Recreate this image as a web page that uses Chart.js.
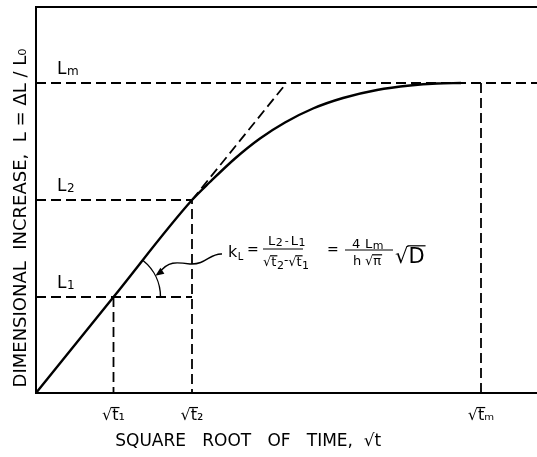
<!DOCTYPE html>
<html>
<head>
<meta charset="utf-8">
<script src="https://cdn.jsdelivr.net/npm/chart.js@4.4.0/dist/chart.umd.min.js"></script>
<style>
    html, body { margin: 0; padding: 0; background: #fff; }
    #wrap { width: 537px; height: 457px; }
</style>
</head>
<body>
<div id="wrap"><canvas id="chart"></canvas></div>
<script>
(function () {
    'use strict';

    // plot units: sqrt(time) across, dimensional increase up (arbitrary)
    var xMax = 501;
    var yMax = 386;

    var tickValues = [77.5, 156, 445];
    var tickLabels = ['√t₁', '√t₂', '√tₘ'];

    var levelValues = [96, 193, 310];      // L1, L2, Lm
    var levelSubs = ['1', '2', 'm'];

    // measured curve: straight from origin through (√t2, L2), then bending over to Lm
    var curveX = [0, 77.5, 156, 174, 199, 224, 249, 277, 307, 341, 374, 401, 425];
    var curveY = [0, 96, 193, 211, 234.5, 254.5, 270.5, 284.5, 295, 303, 307.5, 309.5, 310];

    // extension of the initial slope up to Lm
    var tangentX = [156, 250.5];
    var tangentY = [193, 310];

    var FONT = '"DejaVu Sans", "Liberation Sans", sans-serif';
    var dash = [10, 5];

    function pts(xs, ys) {
        return xs.map(function (x, i) { return { x: x, y: ys[i] }; });
    }

    function dashed(data) {
        return {
            data: data,
            showLine: true,
            borderColor: '#000',
            borderWidth: 1.8,
            borderDash: dash,
            pointRadius: 0,
            tension: 0,
            clip: false
        };
    }

    var t1 = tickValues[0], t2 = tickValues[1], tm = tickValues[2];
    var l1 = levelValues[0], l2 = levelValues[1], lm = levelValues[2];

    var datasets = [
        dashed([{ x: 0, y: lm }, { x: xMax, y: lm }]),
        dashed([{ x: 0, y: l2 }, { x: t2, y: l2 }, { x: t2, y: 0 }]),
        dashed([{ x: 0, y: l1 }, { x: t2, y: l1 }]),
        dashed([{ x: t1, y: l1 }, { x: t1, y: 0 }]),
        dashed([{ x: tm, y: lm }, { x: tm, y: 0 }]),
        dashed(pts(tangentX, tangentY)),
        {
            data: pts(curveX, curveY),
            showLine: true,
            borderColor: '#000',
            borderWidth: 2.4,
            pointRadius: 0,
            cubicInterpolationMode: 'monotone',
            clip: false
        },
        {
            // top frame line
            data: [{ x: 0, y: yMax }, { x: xMax, y: yMax }],
            showLine: true,
            borderColor: '#000',
            borderWidth: 2,
            pointRadius: 0,
            clip: false
        }
    ];

    function withSub(ctx, base, sub, x, baseline, size, subSize, drop) {
        ctx.font = size + 'px ' + FONT;
        ctx.fillText(base, x, baseline);
        var w = ctx.measureText(base).width;
        ctx.font = subSize + 'px ' + FONT;
        ctx.fillText(sub, x + w + 0.5, baseline + drop);
        return w + 0.5 + ctx.measureText(sub).width;
    }

    // radical with vinculum: returns width drawn
    function radical(ctx, x, baseline, size, body, sub, subSize) {
        ctx.font = size + 'px ' + FONT;
        var m = ctx.measureText('√');
        ctx.fillText('√', x, baseline);
        var top = baseline - m.actualBoundingBoxAscent + 0.8;
        var bx = x + m.width;
        var bw = ctx.measureText(body).width;
        ctx.fillText(body, bx, baseline);
        var w = m.width + bw;
        if (sub) {
            ctx.font = subSize + 'px ' + FONT;
            ctx.fillText(sub, bx + bw + 0.5, baseline + 3);
            w += 0.5 + ctx.measureText(sub).width;
        }
        ctx.beginPath();
        ctx.moveTo(bx - 1, top);
        ctx.lineTo(bx + bw + 1, top);
        ctx.lineWidth = 1.2;
        ctx.stroke();
        return w;
    }

    var TICK_SIZE = 16;
    var TICK_PAD = 13;

    var notes = {
        id: 'notes',
        afterDraw: function (chart) {
            var ctx = chart.ctx;
            var xs = chart.scales.x;
            var ys = chart.scales.y;
            ctx.save();
            ctx.fillStyle = '#000';
            ctx.strokeStyle = '#000';
            ctx.textAlign = 'left';
            ctx.textBaseline = 'alphabetic';

            // vinculum over the t of each √t tick label
            ctx.font = TICK_SIZE + 'px ' + FONT;
            ctx.textBaseline = 'middle';
            var mid = xs.top + TICK_PAD + TICK_SIZE * 1.2 / 2;
            tickValues.forEach(function (v, i) {
                var full = ctx.measureText(tickLabels[i]).width;
                var rm = ctx.measureText('√');
                var tw = ctx.measureText('t').width;
                var left = xs.getPixelForValue(v) - full / 2 + rm.width;
                var top = mid - rm.actualBoundingBoxAscent + 0.8;
                ctx.beginPath();
                ctx.moveTo(left - 1, top);
                ctx.lineTo(left + tw + 1, top);
                ctx.lineWidth = 1.2;
                ctx.stroke();
            });
            ctx.textBaseline = 'alphabetic';

            // level labels above each dashed line
            levelValues.forEach(function (v, i) {
                withSub(ctx, 'L', levelSubs[i], xs.getPixelForValue(21), ys.getPixelForValue(v) - 9, 17, 12, 1);
            });

            // angle arc at (√t1, L1)
            var cx = xs.getPixelForValue(t1);
            var cy = ys.getPixelForValue(l1);
            var slope = Math.atan((l2 / t2) * (ys.height / yMax) / (xs.width / xMax));
            ctx.beginPath();
            ctx.arc(cx, cy, 47, -slope, 0);
            ctx.lineWidth = 1.4;
            ctx.stroke();

            // wavy leader from the formula to the arc
            var fx = xs.getPixelForValue(192);
            var fy = ys.getPixelForValue(141);
            var ax = cx + 47 * Math.cos(0.47);
            var ay = cy - 47 * Math.sin(0.47);
            ctx.beginPath();
            ctx.moveTo(fx - 6, fy + 2);
            ctx.bezierCurveTo(fx - 18, fy + 1, fx - 22, fy + 13, fx - 38, fy + 12);
            ctx.bezierCurveTo(fx - 52, fy + 10, fx - 60, fy + 9, ax + 4, ay - 3);
            ctx.stroke();
            ctx.beginPath();
            ctx.moveTo(ax, ay);
            ctx.lineTo(ax + 9, ay - 2);
            ctx.lineTo(ax + 5, ay - 8);
            ctx.closePath();
            ctx.fill();

            // k_L = (L2 - L1)/(√t2 - √t1) = 4 Lm/(h √π) √D
            withSub(ctx, 'k', 'L', fx, fy + 5, 16, 10, 3);
            ctx.font = '14px ' + FONT;
            ctx.fillText('=', fx + 19, fy + 2);

            ctx.lineWidth = 1.2;
            var x0 = fx + 40;
            var w = withSub(ctx, 'L', '2', x0, fy - 7, 13, 11, 1);
            ctx.font = '11px ' + FONT;
            ctx.fillText('-', x0 + w + 2, fy - 8);
            w += ctx.measureText('-').width + 4;
            withSub(ctx, 'L', '1', x0 + w, fy - 7, 13, 11, 1);
            ctx.beginPath();
            ctx.moveTo(fx + 35, fy - 3);
            ctx.lineTo(fx + 75, fy - 3);
            ctx.stroke();
            var dx = fx + 35;
            var dw = radical(ctx, dx, fy + 14, 13, 't', '2', 11);
            ctx.font = '12px ' + FONT;
            ctx.fillText('-', dx + dw, fy + 12);
            dw += ctx.measureText('-').width;
            radical(ctx, dx + dw, fy + 14, 13, 't', '1', 11);

            ctx.font = '14px ' + FONT;
            ctx.fillText('=', fx + 99, fy + 2);

            ctx.font = '13px ' + FONT;
            ctx.fillText('4', fx + 124, fy - 4);
            withSub(ctx, 'L', 'm', fx + 137, fy - 4, 13, 11, 1);
            ctx.beginPath();
            ctx.moveTo(fx + 117, fy - 2);
            ctx.lineTo(fx + 165, fy - 2);
            ctx.stroke();
            ctx.font = '13px ' + FONT;
            ctx.fillText('h', fx + 125, fy + 13);
            radical(ctx, fx + 137, fy + 13, 13, 'π');

            radical(ctx, fx + 167, fy + 11, 21, 'D');

            ctx.restore();
        }
    };

    new Chart(document.getElementById('chart'), {
        type: 'scatter',
        data: { datasets: datasets },
        options: {
            responsive: true,
            maintainAspectRatio: false,
            animation: false,
            layout: { padding: { top: 7, right: 0, bottom: 0, left: 0 } },
            plugins: {
                legend: { display: false },
                tooltip: { enabled: false }
            },
            scales: {
                x: {
                    type: 'linear',
                    min: 0,
                    max: xMax,
                    grid: { display: false, drawTicks: false },
                    border: { display: true, color: '#000', width: 2 },
                    afterBuildTicks: function (scale) {
                        scale.ticks = tickValues.map(function (v) { return { value: v }; });
                    },
                    afterFit: function (scale) { scale.height = 64; },
                    ticks: {
                        autoSkip: false,
                        maxRotation: 0,
                        padding: TICK_PAD,
                        color: '#000',
                        font: { family: FONT, size: TICK_SIZE },
                        callback: function (v) {
                            var i = tickValues.indexOf(v);
                            return i >= 0 ? tickLabels[i] : '';
                        }
                    },
                    title: {
                        display: true,
                        // trailing em spaces pull the centred title left, as in the figure
                        text: 'SQUARE   ROOT   OF   TIME,  √t\u2003\u2003\u2003\u2003\u2002',
                        color: '#000',
                        font: { family: FONT, size: 17 },
                        padding: { top: 0, bottom: 5 }
                    }
                },
                y: {
                    type: 'linear',
                    min: 0,
                    max: yMax,
                    grid: { display: false, drawTicks: false },
                    border: { display: true, color: '#000', width: 2 },
                    afterFit: function (scale) { scale.width = 36; },
                    ticks: { display: false },
                    title: {
                        display: true,
                        text: 'DIMENSIONAL  INCREASE,  L = ΔL / L₀\u2003\u2003',
                        color: '#000',
                        font: { family: FONT, size: 18 },
                        padding: { top: 11, bottom: 0 }
                    }
                }
            }
        },
        plugins: [notes]
    });
})();
</script>
</body>
</html>
